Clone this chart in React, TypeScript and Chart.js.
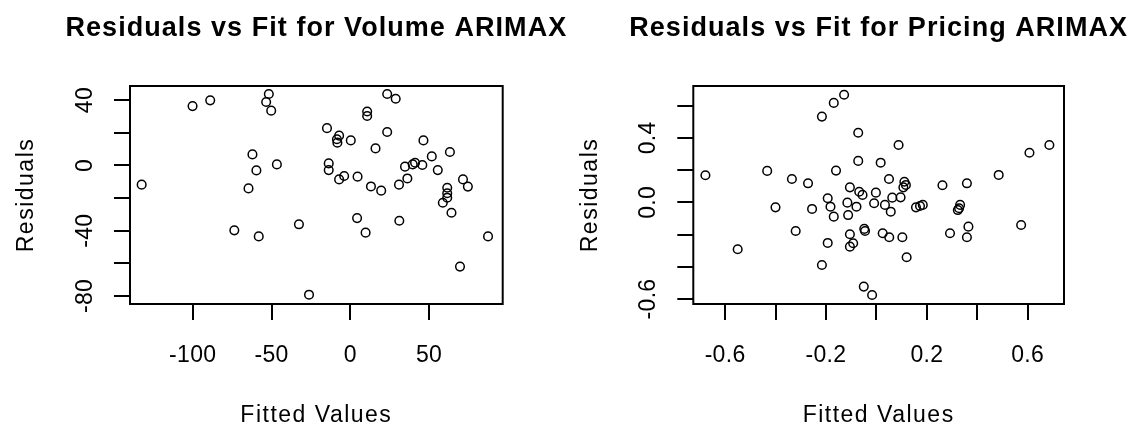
import React, { useEffect, useRef } from 'react';
import { Chart, registerables } from 'chart.js';

Chart.register(...registerables);

// ---------- Data: Volume ARIMAX ----------
const volumeFitted = [
  -132.4, -100.1, -88.9, -51.7, -53.4, -50.2, -62.1, -59.6, -46.6, -64.6,
  -73.6, -58.1, -32.6, -26.2, 23.4, 28.8, 10.7, 10.7, -14.8, -7.1,
  -8.5, -8.2, 0.3, 23.4, 16.0, 46.4, 63.2, 51.7, 55.5, -13.7,
  -13.7, -7.1, -3.9, 4.6, 13.1, 19.6, 30.9, 36.2, 34.7, 41.1,
  39.6, 45.7, 61.5, 61.5, 61.5, 58.7, 64.2, 71.5, 74.6, 4.3,
  9.7, 31.1, 87.4, 69.6,
];
const volumeResiduals = [
  -11.8, 36.3, 39.8, 43.7, 38.8, 33.5, 6.7, -3.1, 0.6, -14.1,
  -39.8, -43.5, -36.1, -79.2, 43.7, 40.8, 33.0, 30.2, 22.8, 18.2,
  16.0, 13.9, 15.3, 20.4, 10.4, 15.3, 8.2, 5.5, -2.9, 1.2,
  -2.9, -8.6, -6.5, -6.9, -12.9, -15.5, -11.8, -8.0, -0.8, 1.6,
  0.6, 0.2, -13.7, -17.1, -19.8, -22.9, -29.0, -8.6, -13.0, -32.3,
  -41.2, -33.9, -43.5, -62.0,
];

// ---------- Data: Pricing ARIMAX ----------
const pricingFitted = [
  -0.678, -0.55, -0.433, -0.4, -0.335, -0.32, -0.271, -0.255, -0.216, -0.169,
  -0.128, -0.216, -0.193, -0.193, -0.182, -0.169, -0.16, -0.072, -0.072, -0.105,
  -0.115, -0.112, -0.079, -0.068, -0.055, -0.009, -0.002, 0.017, -0.048, -0.045,
  -0.05, -0.017, -0.105, -0.092, -0.105, 0.088, 0.05, 0.111, 0.117, 0.107,
  0.063, 0.096, 0.034, 0.057, 0.157, 0.173, 0.184, 0.025, 0.051, 0.103,
  0.12, 0.262, 0.359, 0.485, 0.607, 0.686, 0.332, 0.328, 0.323, 0.292,
  0.365, 0.359, 0.574,
];
const pricingResiduals = [
  0.168, -0.291, 0.195, -0.031, 0.145, -0.178, 0.118, -0.041, 0.532, 0.617,
  0.668, -0.389, -0.252, 0.025, -0.027, -0.089, 0.197, 0.432, 0.257, 0.093,
  -0.002, -0.079, -0.027, 0.066, 0.046, -0.006, 0.06, 0.246, -0.165, -0.178,
  -0.523, -0.575, -0.198, -0.254, -0.275, 0.356, 0.145, 0.128, 0.108, 0.093,
  0.029, 0.031, -0.016, -0.058, -0.031, -0.023, -0.016, -0.192, -0.217, -0.217,
  -0.341, 0.106, 0.118, 0.17, 0.308, 0.356, -0.016, -0.037, -0.048, -0.192,
  -0.151, -0.217, -0.141,
];

// ---------- Axis ranges and tick labels ----------
const volumeXRange = [-139.8, 96.7];
const volumeYRange = [-84.9, 48.6];
const volumeXStep = 50;
const volumeYStep = 20;
const volumeXLabels = [-100, -50, 0, 50];
const volumeYLabels = [40, 0, -40, -80];

const pricingXRange = [-0.726, 0.744];
const pricingYRange = [-0.631, 0.722];
const pricingXStep = 0.2;
const pricingYStep = 0.2;
const pricingXLabels = [-0.6, -0.2, 0.2, 0.6];
const pricingYLabels = [0.4, 0.0, -0.6];

const FONT = '"Liberation Sans", Arial, Helvetica, sans-serif';

type PanelProps = {
  title: string;
  fitted: number[];
  residuals: number[];
  xRange: number[];
  yRange: number[];
  xStep: number;
  yStep: number;
  xLabels: number[];
  yLabels: number[];
  decimals: number;
  canvasLeft: number;
  canvasWidth: number;
  padLeft: number;
  padRight: number;
};

const HEIGHT = 427;

function Panel(props: PanelProps) {
  const ref = useRef<HTMLCanvasElement | null>(null);

  useEffect(() => {
    const canvas = ref.current;
    if (!canvas) return;
    const fmt = (v: number) => (Math.abs(v) < 1e-9 ? 0 : v).toFixed(props.decimals);

    const textPlugin = {
      id: 'rStyleText',
      afterDraw(chart: any) {
        const { ctx, chartArea: a, scales } = chart;
        ctx.save();
        ctx.strokeStyle = '#000';
        ctx.lineWidth = 2;
        ctx.strokeRect(a.left, a.top, a.right - a.left, a.bottom - a.top);

        const cx = (a.left + a.right) / 2;
        const cy = (a.top + a.bottom) / 2;
        ctx.fillStyle = '#000';
        ctx.textAlign = 'center';
        ctx.textBaseline = 'alphabetic';

        ctx.font = `bold 27px ${FONT}`;
        (ctx as any).letterSpacing = '1.05px';
        ctx.fillText(props.title, cx, 35.7);

        ctx.font = `23px ${FONT}`;
        (ctx as any).letterSpacing = '1.5px';
        ctx.fillText('Fitted Values', cx, 421.7);
        ctx.save();
        ctx.translate(a.left - 96.7, cy);
        ctx.rotate(-Math.PI / 2);
        ctx.fillText('Residuals', 0, 0);
        ctx.restore();

        (ctx as any).letterSpacing = '0.3px';
        for (const v of props.xLabels) {
          const x = scales.x.getPixelForValue(v);
          ctx.fillText(fmt(v), x, 361.7);
        }
        for (const v of props.yLabels) {
          const y = scales.y.getPixelForValue(v);
          ctx.save();
          ctx.translate(a.left - 38.3, y);
          ctx.rotate(-Math.PI / 2);
          ctx.fillText(fmt(v), 0, 0);
          ctx.restore();
        }
        ctx.restore();
      },
    };

    const gridCfg = {
      display: true,
      drawOnChartArea: false,
      drawTicks: true,
      tickLength: 16,
      tickWidth: 2,
      tickColor: '#000',
      lineWidth: 2,
      color: '#000',
    };

    const chart = new Chart(canvas, {
      type: 'scatter',
      data: {
        datasets: [
          {
            data: props.fitted.map((x, i) => ({ x, y: props.residuals[i] })),
            pointStyle: 'circle',
            pointRadius: 4.3,
            pointBorderWidth: 1.5,
            borderColor: '#000',
            backgroundColor: 'rgba(0,0,0,0)',
            pointBackgroundColor: 'rgba(0,0,0,0)',
            pointBorderColor: '#000',
            showLine: false,
          } as any,
        ],
      },
      options: {
        animation: false,
        responsive: false,
        devicePixelRatio: 1,
        events: [],
        layout: {
          padding: { left: props.padLeft, right: props.padRight, top: 86, bottom: HEIGHT - 304 },
        },
        plugins: {
          legend: { display: false },
          title: { display: false },
          tooltip: { enabled: false },
        },
        scales: {
          x: {
            type: 'linear',
            position: 'bottom',
            min: props.xRange[0],
            max: props.xRange[1],
            border: { display: false },
            grid: gridCfg as any,
            afterFit: (s: any) => {
              s.height = 0;
            },
            ticks: {
              stepSize: props.xStep,
              includeBounds: false,
              display: false,
            },
          },
          y: {
            type: 'linear',
            position: 'left',
            min: props.yRange[0],
            max: props.yRange[1],
            border: { display: false },
            grid: gridCfg as any,
            afterFit: (s: any) => {
              s.width = 0;
            },
            ticks: {
              stepSize: props.yStep,
              includeBounds: false,
              display: false,
            },
          },
        } as any,
      },
      plugins: [textPlugin],
    });

    return () => {
      chart.destroy();
    };
  }, []);

  return (
    <canvas
      ref={ref}
      width={props.canvasWidth}
      height={HEIGHT}
      style={{
        position: 'absolute',
        left: props.canvasLeft,
        top: 0,
        width: props.canvasWidth,
        height: HEIGHT,
      }}
    />
  );
}

export default function App() {
  return (
    <div
      style={{
        position: 'absolute',
        left: 0,
        top: 0,
        width: 1139,
        height: HEIGHT,
        background: '#fff',
        overflow: 'hidden',
      }}
    >
      <Panel
        title="Residuals vs Fit for Volume ARIMAX"
        fitted={volumeFitted}
        residuals={volumeResiduals}
        xRange={volumeXRange}
        yRange={volumeYRange}
        xStep={volumeXStep}
        yStep={volumeYStep}
        xLabels={volumeXLabels}
        yLabels={volumeYLabels}
        decimals={0}
        canvasLeft={0}
        canvasWidth={569}
        padLeft={130}
        padRight={569 - 502.7}
      />
      <Panel
        title="Residuals vs Fit for Pricing ARIMAX"
        fitted={pricingFitted}
        residuals={pricingResiduals}
        xRange={pricingXRange}
        yRange={pricingYRange}
        xStep={pricingXStep}
        yStep={pricingYStep}
        xLabels={pricingXLabels}
        yLabels={pricingYLabels}
        decimals={1}
        canvasLeft={569}
        canvasWidth={570}
        padLeft={693.3 - 569}
        padRight={570 - (1064 - 569)}
      />
    </div>
  );
}
